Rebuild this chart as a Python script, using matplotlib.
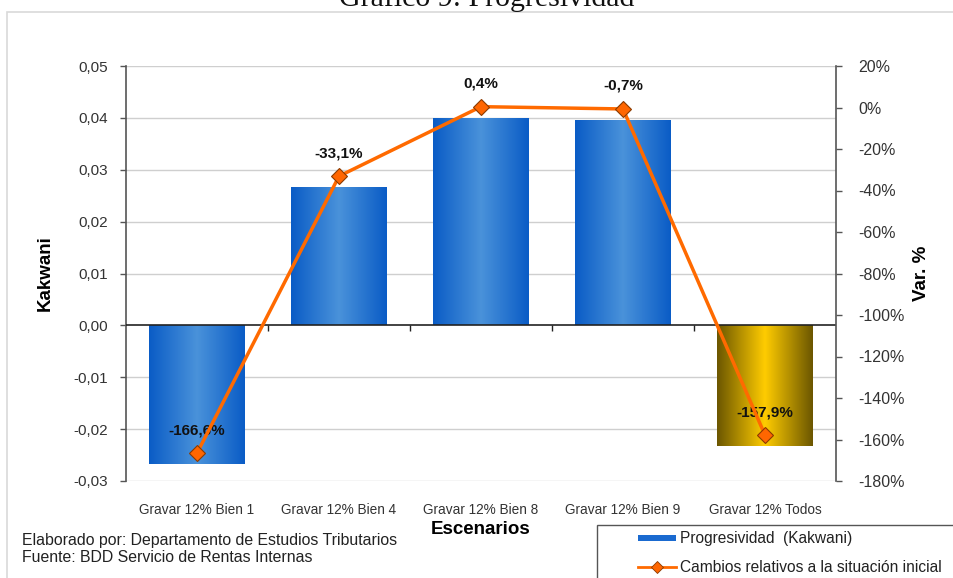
import numpy as np
import matplotlib
matplotlib.use("Agg")
import matplotlib.pyplot as plt
from matplotlib.colors import LinearSegmentedColormap
from matplotlib.patches import Rectangle
from matplotlib.lines import Line2D

# Data
escenarios = ["Gravar 12% Bien 1", "Gravar 12% Bien 4", "Gravar 12% Bien 8",
              "Gravar 12% Bien 9", "Gravar 12% Todos"]
kakwani = [-0.0268, 0.0266, 0.0399, 0.0395, -0.0233]
cambios = [-166.6, -33.1, 0.4, -0.7, -157.9]
cambios_labels = ["-166,6%", "-33,1%", "0,4%", "-0,7%", "-157,9%"]
left_ticks = [0.05, 0.04, 0.03, 0.02, 0.01, 0.00, -0.01, -0.02, -0.03]
right_ticks = [20, 0, -20, -40, -60, -80, -100, -120, -140, -160, -180]

SANS = "Liberation Sans"
plt.rcParams["font.family"] = [SANS, "DejaVu Sans"]

W, H = 954, 578
fig = plt.figure(figsize=(W / 100, H / 100), dpi=100)

# Outer chart frame
fig.patches.append(Rectangle((7 / W, -0.05), 1.1, 1.05 - 12 / H, transform=fig.transFigure,
                             fill=False, edgecolor="#d9d9d9", lw=1.2, zorder=0))

ax = fig.add_axes([126 / W, 1 - 481 / H, 710 / W, 415 / H])
ax2 = ax.twinx()
ax.set_zorder(1)
ax2.set_zorder(2)
ax.patch.set_visible(False)

x = np.arange(len(escenarios))

# Bars with horizontal gradients
blue = LinearSegmentedColormap.from_list("b", ["#0a5cc6", "#4a92da", "#0a5cc6"])
gold = LinearSegmentedColormap.from_list("g", ["#6b5600", "#ffcc00", "#6b5600"])
bar_cmaps = [blue, blue, blue, blue, gold]
bars = ax.bar(x, kakwani, width=0.67, color="#0a5cc6", zorder=2)
grad = np.linspace(0, 1, 256).reshape(1, -1)
for patch, cm in zip(bars, bar_cmaps):
    bx, by = patch.get_x(), patch.get_y()
    bw, bh = patch.get_width(), patch.get_height()
    im = ax.imshow(grad, extent=[bx, bx + bw, by, by + bh], aspect="auto",
                   cmap=cm, origin="lower", zorder=3, interpolation="bilinear")
    im.set_clip_path(patch)

ax.set_xlim(-0.5, len(escenarios) - 0.5)
ax.set_ylim(-0.03, 0.05)
ax.set_yticks(left_ticks)
ax.set_yticklabels([f"{v:.2f}".replace(".", ",") for v in left_ticks])
for v in left_ticks:
    if v != 0:
        ax.axhline(v, color="#cfcfcf", lw=1.0, zorder=1)
ax.axhline(0, color="#222222", lw=1.2, zorder=4)
# small category separators on the zero line
ax.plot(x[:-1] + 0.5, np.zeros(len(x) - 1), ls="none", marker=3, ms=4,
        color="#222222", mew=1, zorder=4)

ax.set_xticks(x)
ax.set_xticklabels(escenarios, fontsize=9.8, color="#333333")
ax.tick_params(axis="x", length=0, pad=16)
ax.tick_params(axis="y", length=4, width=1, color="#555555", pad=9,
               labelsize=11, labelcolor="#333333", direction="out")

for s in ["top", "bottom", "right"]:
    ax.spines[s].set_visible(False)
ax.spines["left"].set_color("#555555")
ax.spines["left"].set_linewidth(1.2)

ax.set_ylabel("Kakwani", fontsize=13.5, fontweight="bold", labelpad=14)
ax.set_xlabel("Escenarios", fontsize=13.5, fontweight="bold", labelpad=3)

# Line on secondary axis
ax2.plot(x, cambios, color="#ff6a00", lw=2.5, marker="D", ms=8.5,
         markerfacecolor="#ff6600", markeredgecolor="#8a3a00", markeredgewidth=0.8,
         zorder=5)
for xi, yi, lab in zip(x, cambios, cambios_labels):
    ax2.annotate(lab, (xi, yi), xytext=(0, 23), textcoords="offset pixels",
                 ha="center", va="center", fontsize=11, fontweight="bold",
                 color="#111111")
ax2.set_ylim(-180, 20)
ax2.set_yticks(right_ticks)
ax2.set_yticklabels([f"{v}%" for v in right_ticks])
ax2.tick_params(axis="y", length=4, width=1, color="#555555", pad=12,
                labelsize=11.5, labelcolor="#333333", direction="out")
for s in ["top", "bottom", "left"]:
    ax2.spines[s].set_visible(False)
ax2.spines["right"].set_color("#555555")
ax2.spines["right"].set_linewidth(1.2)
ax2.set_ylabel("Var. %", fontsize=13.5, fontweight="bold", labelpad=6)

# Title (partly above the canvas edge)
fig.text(487 / W, 1 - 6 / H, "Gráfico 9: Progresividad", ha="center", va="baseline",
         fontsize=21.5, family="Liberation Serif", color="#111111")

# Source notes
fig.text(22 / W, 1 - 541 / H, "Elaborado por: Departamento de Estudios Tributarios",
         fontsize=11.4, va="center", color="#222222")
fig.text(22 / W, 1 - 557 / H, "Fuente: BDD Servicio de Rentas Internas",
         fontsize=11.4, va="center", color="#222222")

# Legend box
fig.patches.append(Rectangle((597 / W, -0.05), 1.0, 0.05 + 1 - 525 / H,
                             transform=fig.transFigure, fill=False,
                             edgecolor="#555555", lw=1.0, zorder=5))
fig.patches.append(Rectangle((638 / W, 1 - 541 / H), 38 / W, 6 / H,
                             transform=fig.transFigure, facecolor="#1a6ad0",
                             edgecolor="none", zorder=6))
fig.text(680 / W, 1 - 538 / H, "Progresividad  (Kakwani)", fontsize=11.2,
         va="center", color="#222222")
fig.lines.append(Line2D([638 / W, 676 / W], [1 - 567 / H, 1 - 567 / H],
                        transform=fig.transFigure, color="#ff6a00", lw=2))
fig.lines.append(Line2D([657 / W], [1 - 567 / H], transform=fig.transFigure,
                        marker="D", ms=6, color="#ff6600", mec="#8a3a00", mew=0.6))
fig.text(680 / W, 1 - 567 / H, "Cambios relativos a la situación inicial",
         fontsize=11.2, va="center", color="#222222")

fig.savefig("out.png", dpi=100)
